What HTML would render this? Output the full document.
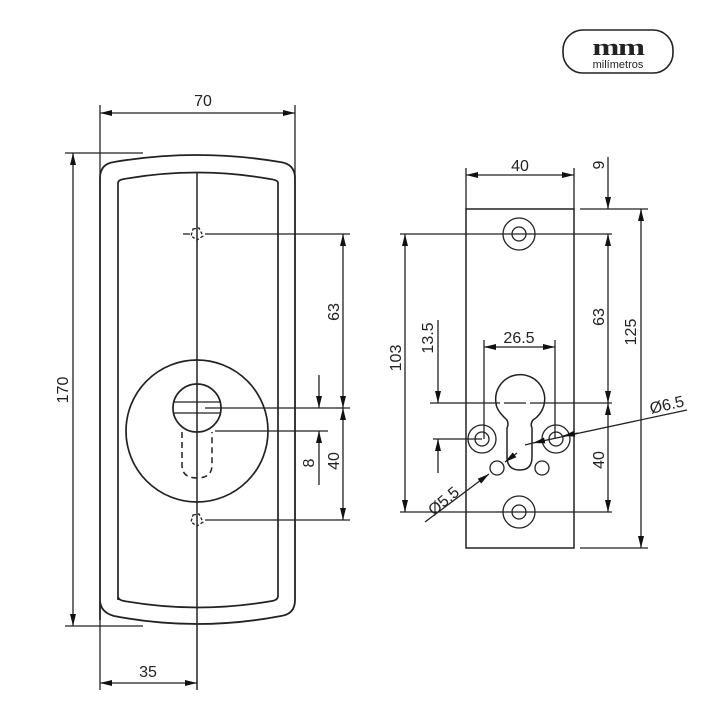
<!DOCTYPE html>
<html><head><meta charset="utf-8"><style>
html,body{margin:0;padding:0;background:#fff}
svg{display:block}
text{font-family:"Liberation Sans",Arial,sans-serif;fill:#222}
</style></head><body>
<svg width="720" height="720" viewBox="0 0 720 720" xmlns="http://www.w3.org/2000/svg">
<defs>
<marker id="a" viewBox="0 0 12 6" refX="12" refY="3" markerWidth="12" markerHeight="6" markerUnits="userSpaceOnUse" orient="auto-start-reverse"><path d="M0,0 L12,3 L0,6z" fill="#111"/></marker>
</defs>
<g stroke="#222" stroke-width="1.3" fill="none">
<!-- logo -->
<rect x="563" y="30" width="110" height="43" rx="20" stroke-width="1.6"/>
<!-- LEFT PLATE -->
<path d="M100,620 L100,178 Q100,164 114,162 Q197,148 280,162 Q295,164 295,178 L295,600 Q295,614 281,616 Q197,632 114,616 Q100,612 100,600 Z" stroke-width="1.8"/>
<path d="M118,600 L118,183 Q118,180 124,179 Q197,166 270,179 Q278,180 278,183 L278,596 Q278,600 272,601 Q197,614 124,601 Q118,600 118,596 Z" stroke-width="1.7"/>
<line x1="197" y1="173" x2="197" y2="690" stroke-width="1.5"/>
<!-- screws -->
<line x1="183" y1="234" x2="190" y2="234"/>
<path d="M193,229 L199,228 L203,236 L197,240 L191,236 Z" stroke-dasharray="3,2"/>
<path d="M193,515 L199,514 L203,522 L197,526 L191,522 Z" stroke-dasharray="3,2"/>
<!-- cylinder rosette -->
<circle cx="197" cy="431" r="71" stroke-width="1.7"/>
<circle cx="197" cy="408" r="24" stroke-width="1.7"/>
<line x1="173" y1="402" x2="221" y2="402"/>
<line x1="173" y1="413" x2="221" y2="413"/>
<path d="M182,432 L182,465 Q182,478 197,478 Q212,478 212,465 L212,432" stroke-dasharray="6,4" stroke-width="1.5"/>
<!-- dims left -->
<line x1="100" y1="113" x2="295" y2="113" marker-start="url(#a)" marker-end="url(#a)"/>
<line x1="100" y1="105" x2="100" y2="175"/>
<line x1="295" y1="105" x2="295" y2="178"/>
<line x1="73" y1="153" x2="73" y2="626" marker-start="url(#a)" marker-end="url(#a)"/>
<line x1="65" y1="153" x2="143" y2="153"/>
<line x1="65" y1="626" x2="143" y2="626"/>
<line x1="205" y1="234" x2="350" y2="234"/>
<line x1="205" y1="408" x2="350" y2="408"/>
<line x1="215" y1="431" x2="328" y2="431"/>
<line x1="205" y1="520" x2="350" y2="520"/>
<line x1="343" y1="234" x2="343" y2="408" marker-start="url(#a)" marker-end="url(#a)"/>
<line x1="343" y1="408" x2="343" y2="520" marker-start="url(#a)" marker-end="url(#a)"/>
<line x1="319" y1="375" x2="319" y2="408" marker-end="url(#a)"/>
<line x1="319" y1="485" x2="319" y2="431" marker-end="url(#a)"/>
<line x1="100" y1="683" x2="197" y2="683" marker-start="url(#a)" marker-end="url(#a)"/>
<line x1="100" y1="620" x2="100" y2="690"/>
<!-- RIGHT PLATE -->
<rect x="466" y="209" width="108" height="339" stroke-width="1.5"/>
<line x1="466" y1="168" x2="466" y2="209"/>
<line x1="574" y1="168" x2="574" y2="209"/>
<line x1="466" y1="175" x2="574" y2="175" marker-start="url(#a)" marker-end="url(#a)"/>
<circle cx="519" cy="234" r="16"/><circle cx="519" cy="234" r="7"/>
<circle cx="519" cy="512" r="16"/><circle cx="519" cy="512" r="7"/>
<path d="M507,420 Q496,410 496,403 A24.5,24.5 0 1 1 533,420 Q530,424 532,428 L532,457 Q532,470 520,470 Q507,470 507,457 L507,428 Q509,424 507,420 Z" stroke-width="1.5"/>
<circle cx="482" cy="439" r="14"/><circle cx="482" cy="439" r="7"/>
<circle cx="556" cy="439" r="14"/><circle cx="556" cy="439" r="7"/>
<circle cx="497" cy="468" r="7"/><circle cx="542" cy="468" r="7"/>
<line x1="430" y1="403" x2="612" y2="403" stroke-dasharray="70,4,22,4,200"/>
<line x1="400" y1="234" x2="612" y2="234"/>
<line x1="400" y1="512" x2="612" y2="512"/>
<line x1="580" y1="209" x2="648" y2="209"/>
<line x1="580" y1="548" x2="648" y2="548"/>
<line x1="405" y1="234" x2="405" y2="512" marker-start="url(#a)" marker-end="url(#a)"/>
<line x1="608" y1="157" x2="608" y2="209" marker-end="url(#a)"/>
<line x1="608" y1="234" x2="608" y2="403" marker-start="url(#a)" marker-end="url(#a)"/>
<line x1="608" y1="403" x2="608" y2="512" marker-start="url(#a)" marker-end="url(#a)"/>
<line x1="641" y1="209" x2="641" y2="548" marker-start="url(#a)" marker-end="url(#a)"/>
<line x1="433" y1="439" x2="482" y2="439"/>
<line x1="438" y1="320" x2="438" y2="403" marker-end="url(#a)"/>
<line x1="438" y1="473" x2="438" y2="439" marker-end="url(#a)"/>
<line x1="484" y1="340" x2="484" y2="439"/>
<line x1="555" y1="340" x2="555" y2="439"/>
<line x1="484" y1="347" x2="555" y2="347" marker-start="url(#a)" marker-end="url(#a)"/>
<line x1="525" y1="445" x2="533" y2="443"/>
<line x1="533" y1="443" x2="687" y2="410" marker-start="url(#a)"/>
<line x1="578" y1="433" x2="563" y2="436" marker-end="url(#a)"/>
<line x1="517" y1="453" x2="505" y2="462" marker-end="url(#a)"/>
<line x1="489" y1="474" x2="425" y2="522" marker-start="url(#a)"/>
</g>
<!-- logo text -->
<text x="618" y="55" text-anchor="middle" transform="translate(618,0) scale(1.35,1) translate(-618,0)" style="font-family:'Liberation Serif',serif;font-weight:bold;font-size:24px;letter-spacing:-1px">mm</text>
<text x="618" y="68" text-anchor="middle" style="font-size:11px">milímetros</text>
<!-- labels -->
<g font-size="16">
<text x="203" y="106" text-anchor="middle">70</text>
<text x="148" y="677" text-anchor="middle">35</text>
<text x="520" y="171" text-anchor="middle">40</text>
<text x="519" y="343" text-anchor="middle">26.5</text>
<text transform="translate(68,390) rotate(-90)" text-anchor="middle">170</text>
<text transform="translate(339,312) rotate(-90)" text-anchor="middle">63</text>
<text transform="translate(314,463) rotate(-90)" text-anchor="middle">8</text>
<text transform="translate(339,461) rotate(-90)" text-anchor="middle">40</text>
<text transform="translate(401,358) rotate(-90)" text-anchor="middle">103</text>
<text transform="translate(433,338) rotate(-90)" text-anchor="middle">13.5</text>
<text transform="translate(604,165) rotate(-90)" text-anchor="middle">9</text>
<text transform="translate(604,317) rotate(-90)" text-anchor="middle">63</text>
<text transform="translate(604,460) rotate(-90)" text-anchor="middle">40</text>
<text transform="translate(636,332) rotate(-90)" text-anchor="middle">125</text>
<text transform="translate(668,410) rotate(-13)" text-anchor="middle">Ø6.5</text>
<text transform="translate(447,505) rotate(-40)" text-anchor="middle">Ø5.5</text>
</g>
</svg>
</body></html>
